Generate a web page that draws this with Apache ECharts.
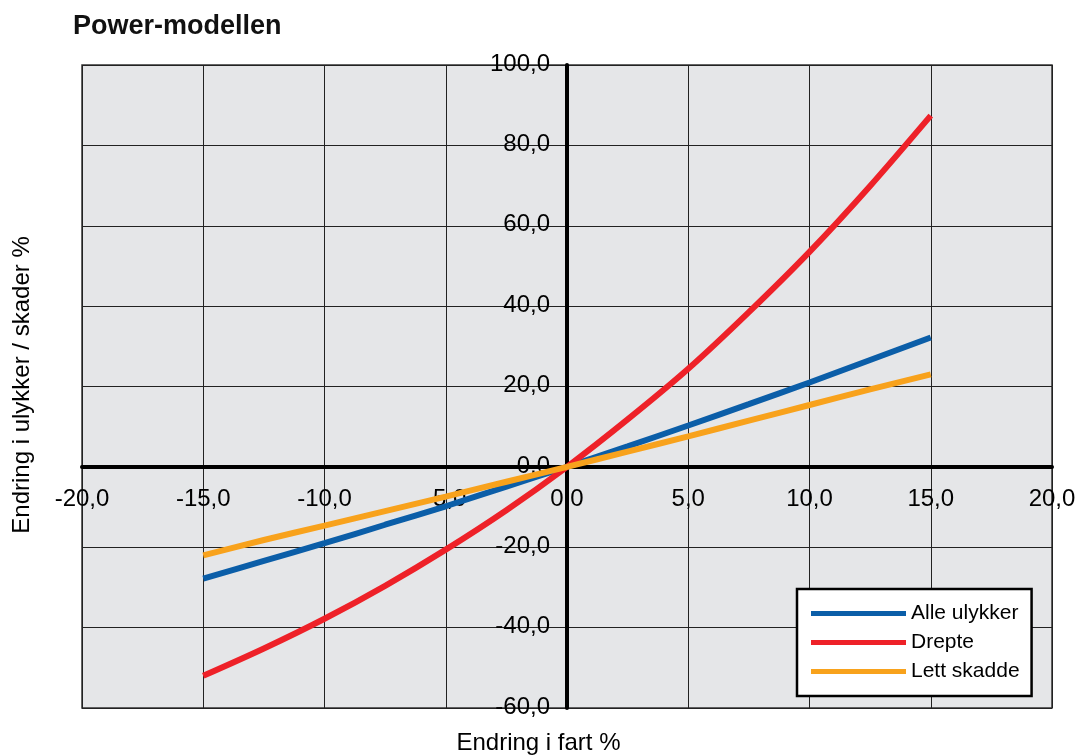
<!DOCTYPE html>
<html>
<head>
<meta charset="utf-8">
<script src="https://cdn.jsdelivr.net/npm/echarts@6/dist/echarts.min.js"></script>
<style>
html,body{margin:0;padding:0;background:#fff;}
#chart{width:1077px;height:755px;}
</style>
</head>
<body>
<div id="chart"></div>
<script>
var titleText = 'Power-modellen';
var xAxisTitle = 'Endring i fart %';
var yAxisTitle = 'Endring i ulykker / skader %';
var seriesNames = ['Alle ulykker', 'Drepte', 'Lett skadde'];
var seriesColors = ['#0b5ea8', '#ee2128', '#f8a21c'];
var xTicks = [-20, -15, -10, -5, 0, 5, 10, 15, 20];
var yTicks = [-60, -40, -20, 0, 20, 40, 60, 80, 100];
var speedChange = [-15, -12.5, -10, -7.5, -5, -2.5, 0, 2.5, 5, 7.5, 10, 12.5, 15];
var alleUlykker = [-27.8, -23.4, -19.0, -14.4, -9.8, -4.9, 0, 5.1, 10.3, 15.6, 21.0, 26.6, 32.2];
var drepte = [-52.0, -45.2, -37.8, -29.6, -20.6, -10.8, 0, 11.8, 24.4, 38.5, 53.5, 69.9, 87.4];
var lettSkadde = [-22.0, -18.2, -14.6, -11.0, -7.4, -3.7, 0, 3.8, 7.6, 11.5, 15.4, 19.3, 23.0];
var seriesValues = [alleUlykker, drepte, lettSkadde];

var FONT = '"Liberation Sans", Arial, sans-serif';
function fmt(v){ return v.toFixed(1).replace('.', ','); }

var chart = echarts.init(document.getElementById('chart'), null, {renderer:'canvas'});
var series = seriesNames.map(function(name, i){
  return {
    name: name,
    type: 'line',
    data: speedChange.map(function(x, j){ return [x, seriesValues[i][j]]; }),
    showSymbol: false,
    smooth: 0.3,
    color: seriesColors[i],
    lineStyle: {width: 6, color: seriesColors[i]},
    z: 3 + i
  };
});

// tick labels placed next to the zero axes, through the chart's own scales
var tickLabelStyle = {fontFamily: FONT, fontSize: 24, color: '#000', opacity: 1, textBorderWidth: 0};
series.push({
  name: 'xTickLabels', type: 'scatter', symbolSize: 0, clip: false, silent: true, z: 1,
  itemStyle: {color: '#000', opacity: 1},
  data: xTicks.map(function(x){ return [x, 0]; }),
  label: Object.assign({show: true, position: 'bottom', distance: 20,
    formatter: function(p){ return fmt(p.value[0]); }}, tickLabelStyle)
});
series.push({
  name: 'yTickLabels', type: 'scatter', symbolSize: 0, clip: false, silent: true, z: 1,
  itemStyle: {color: '#000', opacity: 1},
  data: yTicks.map(function(y){ return [0, y]; }),
  label: Object.assign({show: true, position: 'left', distance: 17, offset: [0, -1],
    formatter: function(p){ return fmt(p.value[1]); }}, tickLabelStyle)
});

chart.setOption({
  animation: false,
  backgroundColor: '#ffffff',
  tooltip: {show: false},
  title: {
    text: titleText, left: 68, top: 8,
    textStyle: {fontFamily: FONT, fontSize: 27, fontWeight: 'bold', color: '#111'}
  },
  grid: {
    left: 82, right: 25, top: 65, bottom: 47,
    show: true, backgroundColor: '#e5e6e8', borderColor: '#333', borderWidth: 1.5,
    containLabel: false
  },
  xAxis: {
    type: 'value', min: -20, max: 20, interval: 5,
    axisLine: {onZero: true, lineStyle: {color: '#000', width: 4}},
    axisTick: {show: false},
    axisLabel: {show: false},
    splitLine: {show: true, lineStyle: {color: '#222', width: 1}}
  },
  yAxis: {
    type: 'value', min: -60, max: 100, interval: 20,
    axisLine: {onZero: true, lineStyle: {color: '#000', width: 4}},
    axisTick: {show: false},
    axisLabel: {show: false},
    splitLine: {show: true, lineStyle: {color: '#222', width: 1}}
  },
  legend: {
    orient: 'vertical', left: 797, top: 589,
    data: seriesNames,
    icon: 'rect', itemWidth: 95, itemHeight: 5, itemGap: 8,
    padding: [14, 12, 14, 14],
    backgroundColor: '#fff', borderColor: '#000', borderWidth: 2.5, borderRadius: 0,
    textStyle: {fontFamily: FONT, fontSize: 21, color: '#000'}
  },
  graphic: [
    {type: 'text', left: 'center', top: 731,
     style: {text: xAxisTitle, font: '24px ' + FONT, fill: '#000'}},
    {type: 'text', x: 10, y: 385, rotation: Math.PI / 2,
     style: {text: yAxisTitle, font: '24px ' + FONT, fill: '#000', align: 'center', verticalAlign: 'top'}}
  ],
  series: series
});
</script>
</body>
</html>
